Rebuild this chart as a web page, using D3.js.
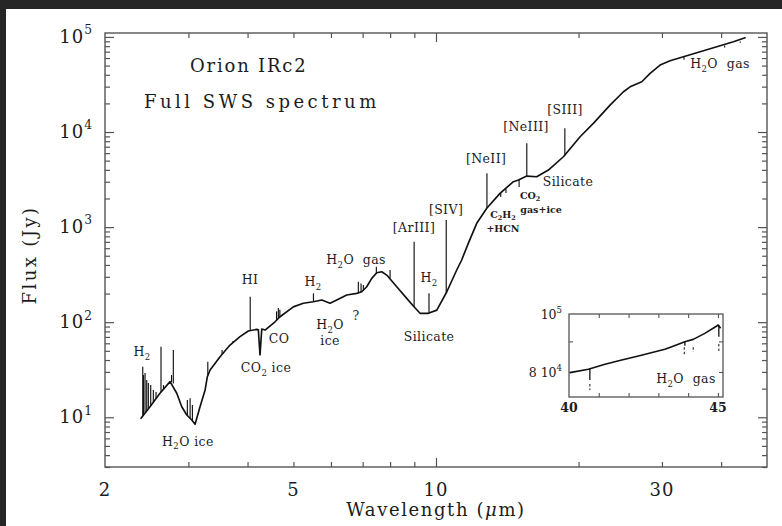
<!DOCTYPE html>
<html>
<head>
<meta charset="utf-8">
<script src="https://cdn.jsdelivr.net/npm/d3@7"></script>
<style>
  html, body { margin: 0; padding: 0; background: #262626; }
  svg { display: block; }
  text { font-family: "DejaVu Serif", serif; fill: #1c1c1c; }
</style>
</head>
<body>
<svg id="chart" width="782" height="526"></svg>
<script>
// ISO-SWS spectrum of Orion IRc2: continuum trace (wavelength in µm, flux density in Jy)
const wavelength = [2.383, 2.489, 2.613, 2.744, 2.835, 2.905, 2.977, 3.050, 3.099, 3.175, 3.254, 3.290, 3.334,
  3.499, 3.673, 3.856, 4.015, 4.182, 4.215, 4.250, 4.286, 4.355, 4.572, 4.685, 4.997, 5.246, 5.508, 5.738,
  5.974, 6.172, 6.479, 6.802, 6.970, 7.141, 7.317, 7.497, 7.681, 7.870, 8.262, 8.673, 8.956, 9.253, 9.636,
  10.04, 10.54, 11.06, 11.33, 11.70, 12.19, 12.80, 13.65, 14.57, 14.93, 15.55, 16.32, 17.27, 18.58, 20.15,
  21.49, 23.31, 24.88, 25.70, 27.20, 28.32, 29.73, 31.21, 33.30, 36.12, 39.17, 42.46, 44.95];
const flux = [9.76, 12.9, 17.9, 23.7, 17.9, 12.9, 10.57, 9.36, 8.44, 12.9, 19.4, 26.7, 31.4,
  43.4, 57.5, 70.4, 80.8, 84.1, 83.3, 45.2, 84.8, 82.7, 101, 114, 145, 158, 164, 171,
  158, 171, 193, 201, 209, 236, 289, 331, 339, 313, 236, 178, 148, 124, 124,
  134, 209, 354, 451, 675, 1096, 1576, 2265, 3000, 3126, 3443, 3387, 3981, 5495, 8919,
  12340, 19200, 26500, 29900, 33800, 41400, 50600, 56200, 61900, 69800, 78800, 89000, 98000];

// Narrow emission lines: position, underlying continuum and peak flux
const lineWavelength = [2.403, 2.412, 2.430, 2.450, 2.469, 2.498, 2.530, 2.563, 2.626, 2.658, 2.764, 2.788,
  2.985, 3.025, 3.059, 3.297, 3.534, 3.727, 4.052, 4.606, 4.646, 4.680, 5.511, 6.855, 6.946, 7.024,
  7.482, 7.998, 8.991, 9.665, 10.51, 12.81, 15.55, 18.71];
const lineBase = [10.3, 10.6, 11.2, 11.8, 12.4, 13.2, 14.4, 15.8, 18.3, 19.6, 23.4, 22.6,
  10.4, 9.7, 9.3, 27.5, 46, 61, 81.5, 105, 109, 113, 164, 203, 208, 217,
  328, 290, 145, 124.5, 205, 1585, 3443, 5650];
const linePeak = [34.0, 27.8, 29.2, 24.7, 22.9, 21.8, 19.4, 18.4, 55.2, 21.8, 27.8, 51.0,
  15.2, 15.9, 13.5, 38.4, 51.0, 63.4, 185, 130, 141, 135, 201, 266, 256, 246,
  383, 354, 702, 201, 1187, 3677, 7600, 10930];

// Narrow absorption dips
const dipWavelength = [13.70, 14.05, 14.98, 33.4, 40.7, 43.9];
const dipTop = [2265, 2520, 3150, 62000, 81200, 89800];
const dipBottom = [2073, 2280, 2640, 57500, 77600, 87000];

// Inset: 40-45 µm detail
const insetWavelength = [40.03, 40.65, 41.21, 41.77, 42.33, 42.89, 43.22, 43.45, 43.89, 44.17, 44.56, 44.96, 45.01, 45.09];
const insetFlux = [79800, 80850, 82420, 83760, 85070, 86490, 87300, 88200, 89900, 90700, 92830, 95480, 95860, 94650];
const insetDipWavelength = [40.70, 43.89, 45.03];
const insetDipTop = [81100, 89900, 95700];
const insetDipBottom = [77600, 88500, 91600];
const insetMarkWavelength = [40.70, 43.87, 44.17, 45.03];
const insetMarkTop = [76400, 88000, 88000, 89100];
const insetMarkBottom = [74600, 85400, 86400, 86400];

// Axes ticks and labels
const xTickLabels = [2, 5, 10, 30];
const xMinorTicks = [3, 4, 5, 6, 7, 8, 9, 20, 30, 40];
const xMajorTicks = [10];
const yMajorTicks = [10, 100, 1000, 10000, 100000];
const yMajorExponents = [1, 2, 3, 4, 5];
const yMinorTicks = [3, 4, 5, 6, 7, 8, 9,
  20, 30, 40, 50, 60, 70, 80, 90,
  200, 300, 400, 500, 600, 700, 800, 900,
  2000, 3000, 4000, 5000, 6000, 7000, 8000, 9000,
  20000, 30000, 40000, 50000, 60000, 70000, 80000, 90000];
const insetXTicks = [41, 42, 43, 44, 45];
const insetXTickLabels = [40, 45];
const insetYTicks = [80000, 90000];

// Feature annotations, anchored at (wavelength, flux) = text centre / baseline
const notes = [
  { t: "H_2", w: 2.394, f: 44.1 },
  { t: "H_2O ice", w: 2.993, f: 5.0 },
  { t: "HI", w: 4.05, f: 250 },
  { t: "CO_2 ice", w: 4.375, f: 29.9 },
  { t: "CO", w: 4.662, f: 60.4 },
  { t: "H_2", w: 5.50, f: 240 },
  { t: "H_2O", w: 5.974, f: 84.8 },
  { t: "ice", w: 5.974, f: 57.5 },
  { t: "?", w: 6.779, f: 105 },
  { t: "H_2O  gas", w: 6.779, f: 409 },
  { t: "[ArIII]", w: 8.987, f: 888 },
  { t: "H_2", w: 9.669, f: 264 },
  { t: "Silicate", w: 9.669, f: 63.4 },
  { t: "[SIV]", w: 10.50, f: 1372 },
  { t: "[NeII]", w: 12.76, f: 4719 },
  { t: "C_2H_2", w: 13.85, f: 1245, small: true },
  { t: "+HCN", w: 13.85, f: 888, small: true },
  { t: "CO_2", w: 15.80, f: 1973, small: true },
  { t: "gas+ice", w: 16.67, f: 1406, small: true },
  { t: "Silicate", w: 19.0, f: 2703 },
  { t: "[NeIII]", w: 15.49, f: 10240 },
  { t: "[SIII]", w: 18.73, f: 15300 },
  { t: "H_2O  gas", w: 39.79, f: 46900 }
];

const svg = d3.select("#chart");
const W = 782, H = 526;
const plot = { left: 105, right: 767, top: 33, bottom: 467 };
const ink = "#111";
const frameColor = "#555";

// page background
svg.append("rect").attr("x", 6).attr("y", 9).attr("width", W - 6).attr("height", H - 9).attr("fill", "#fff");

const x = d3.scaleLog().domain([2, 50]).range([plot.left, plot.right]);
const y = d3.scaleLog().domain([3, 1.1e5]).range([plot.bottom, plot.top]);

// rich text with sub/superscripts: "_x" subscript, "^x" superscript
function rich(sel, str, size, subShift = 0.28) {
  const parts = [];
  let i = 0, cur = "";
  while (i < str.length) {
    const c = str[i];
    if (c === "_" || c === "^") {
      if (cur) parts.push({ t: cur, k: 0 });
      cur = "";
      parts.push({ t: str[i + 1], k: c === "_" ? 1 : -1 });
      i += 2;
    } else { cur += c; i++; }
  }
  if (cur) parts.push({ t: cur, k: 0 });
  let shift = 0;
  parts.forEach(p => {
    const target = p.k === 1 ? size * subShift : p.k === -1 ? -size * 0.48 : 0;
    const ts = sel.append("tspan").text(p.t).attr("dy", target - shift);
    if (p.k) ts.attr("font-size", size * 0.68);
    shift = target;
  });
}

// ---- axes ticks (inward on all four sides)
function tickAxis(axisFn, values, len, tx, ty) {
  const g = svg.append("g").attr("transform", `translate(${tx},${ty})`)
    .call(axisFn.tickValues(values).tickSize(-len).tickFormat(""));
  g.select(".domain").remove();
  g.selectAll(".tick line").attr("stroke", frameColor).attr("stroke-width", 1.2);
}
tickAxis(d3.axisBottom(x), xMinorTicks, 5, 0, plot.bottom);
tickAxis(d3.axisBottom(x), xMajorTicks, 9, 0, plot.bottom);
tickAxis(d3.axisTop(x), xMinorTicks, 5, 0, plot.top);
tickAxis(d3.axisTop(x), xMajorTicks, 9, 0, plot.top);
tickAxis(d3.axisLeft(y), yMinorTicks, 5, plot.left, 0);
tickAxis(d3.axisLeft(y), yMajorTicks, 9, plot.left, 0);
tickAxis(d3.axisRight(y), yMinorTicks, 5, plot.right, 0);
tickAxis(d3.axisRight(y), yMajorTicks, 9, plot.right, 0);

svg.append("rect")
  .attr("x", plot.left).attr("y", plot.top)
  .attr("width", plot.right - plot.left).attr("height", plot.bottom - plot.top)
  .attr("fill", "none").attr("stroke", frameColor).attr("stroke-width", 1.4);

// tick labels
svg.append("g").selectAll("text").data(xTickLabels).join("text")
  .attr("x", d => x(d)).attr("y", 496)
  .attr("text-anchor", "middle").attr("font-size", 18).attr("letter-spacing", 1)
  .text(d => d);

yMajorTicks.forEach((v, i) => {
  const t = svg.append("text").attr("x", 93).attr("y", y(v) + 6)
    .attr("text-anchor", "end").attr("font-size", 18).attr("letter-spacing", 1);
  rich(t, "10^" + yMajorExponents[i], 18);
});

// axis titles
const xt = svg.append("text").attr("x", 436).attr("y", 516)
  .attr("text-anchor", "middle").attr("font-size", 18).attr("letter-spacing", 1.6);
xt.append("tspan").text("Wavelength (");
xt.append("tspan").attr("font-style", "italic").text("\u03bc");
xt.append("tspan").text("m)");

svg.append("text").attr("transform", "translate(36,255) rotate(-90)")
  .attr("text-anchor", "middle").attr("font-size", 18).attr("letter-spacing", 2.4)
  .text("Flux (Jy)");

// titles inside the frame
svg.append("text").attr("x", 190).attr("y", 72).attr("font-size", 18).attr("letter-spacing", 1.8).text("Orion IRc2");
svg.append("text").attr("x", 144).attr("y", 108).attr("font-size", 18).attr("letter-spacing", 3.5).text("Full SWS spectrum");

// ---- spectrum
const line = d3.line().x(d => x(d[0])).y(d => y(d[1]));
const spectrum = wavelength.map((w, i) => [w, flux[i]]);
svg.append("path").attr("d", line(spectrum))
  .attr("fill", "none").attr("stroke", ink).attr("stroke-width", 1.65)
  .attr("stroke-linejoin", "round").attr("stroke-linecap", "round");

svg.append("g").selectAll("path").data(lineWavelength).join("path")
  .attr("d", (w, i) => line([[w, lineBase[i]], [w, linePeak[i]]]))
  .attr("stroke", ink).attr("stroke-width", 1.15).attr("fill", "none");

svg.append("g").selectAll("path").data(dipWavelength).join("path")
  .attr("d", (w, i) => line([[w, dipTop[i]], [w, dipBottom[i]]]))
  .attr("stroke", ink).attr("stroke-width", 1.1).attr("fill", "none");

// ---- annotations
notes.forEach(n => {
  const size = n.small ? 9.5 : 12.5;
  const t = svg.append("text").attr("x", x(n.w)).attr("y", y(n.f))
    .attr("text-anchor", "middle").attr("font-size", size)
    .attr("font-weight", n.small ? "bold" : null)
    .attr("letter-spacing", n.small ? 0 : 0.4)
    .attr("xml:space", "preserve");
  rich(t, n.t, size, n.small ? 0.2 : 0.28);
});

// ---- inset: 40-45 µm
const inset = { left: 569, right: 723, top: 314, bottom: 397 };
const ix = d3.scaleLinear().domain([40, 45.17]).range([inset.left, inset.right]);
const iy = d3.scaleLog().domain([72660, 1e5]).range([inset.bottom, inset.top]);

svg.append("rect").attr("x", inset.left).attr("y", inset.top)
  .attr("width", inset.right - inset.left).attr("height", inset.bottom - inset.top)
  .attr("fill", "#fff");

function insetTicks(axisFn, values, tx, ty) {
  const g = svg.append("g").attr("transform", `translate(${tx},${ty})`)
    .call(axisFn.tickValues(values).tickSize(-4).tickFormat(""));
  g.select(".domain").remove();
  g.selectAll(".tick line").attr("stroke", frameColor).attr("stroke-width", 1.1);
}
insetTicks(d3.axisBottom(ix), insetXTicks, 0, inset.bottom);
insetTicks(d3.axisTop(ix), insetXTicks, 0, inset.top);
insetTicks(d3.axisLeft(iy), insetYTicks, inset.left, 0);
insetTicks(d3.axisRight(iy), insetYTicks, inset.right, 0);

svg.append("rect").attr("x", inset.left).attr("y", inset.top)
  .attr("width", inset.right - inset.left).attr("height", inset.bottom - inset.top)
  .attr("fill", "none").attr("stroke", frameColor).attr("stroke-width", 1.3);

const iline = d3.line().x(d => ix(d[0])).y(d => iy(d[1]));
svg.append("path").attr("d", iline(insetWavelength.map((w, i) => [w, insetFlux[i]])))
  .attr("fill", "none").attr("stroke", ink).attr("stroke-width", 1.6).attr("stroke-linejoin", "round");
svg.append("g").selectAll("path").data(insetDipWavelength).join("path")
  .attr("d", (w, i) => iline([[w, insetDipTop[i]], [w, insetDipBottom[i]]]))
  .attr("stroke", ink).attr("stroke-width", 1.3);
svg.append("g").selectAll("path").data(insetMarkWavelength).join("path")
  .attr("d", (w, i) => iline([[w, insetMarkTop[i]], [w, insetMarkBottom[i]]]))
  .attr("stroke", ink).attr("stroke-width", 1).attr("stroke-dasharray", "2.5,2");

svg.append("g").selectAll("text").data(insetXTickLabels).join("text")
  .attr("x", d => ix(d)).attr("y", 412).attr("text-anchor", "middle").attr("font-size", 12.5)
  .attr("font-weight", "bold").text(d => d);

const il1 = svg.append("text").attr("x", 562).attr("y", 319).attr("text-anchor", "end").attr("font-size", 12.5);
rich(il1, "10^5", 12.5);
const il2 = svg.append("text").attr("x", 562).attr("y", iy(80000) + 5).attr("text-anchor", "end").attr("font-size", 12.5)
  .attr("xml:space", "preserve");
rich(il2, "8 10^4", 12.5);

const il3 = svg.append("text").attr("x", 686).attr("y", 383).attr("text-anchor", "middle").attr("font-size", 12.5)
  .attr("letter-spacing", 0.4).attr("xml:space", "preserve");
rich(il3, "H_2O  gas", 12.5);
</script>
</body>
</html>
